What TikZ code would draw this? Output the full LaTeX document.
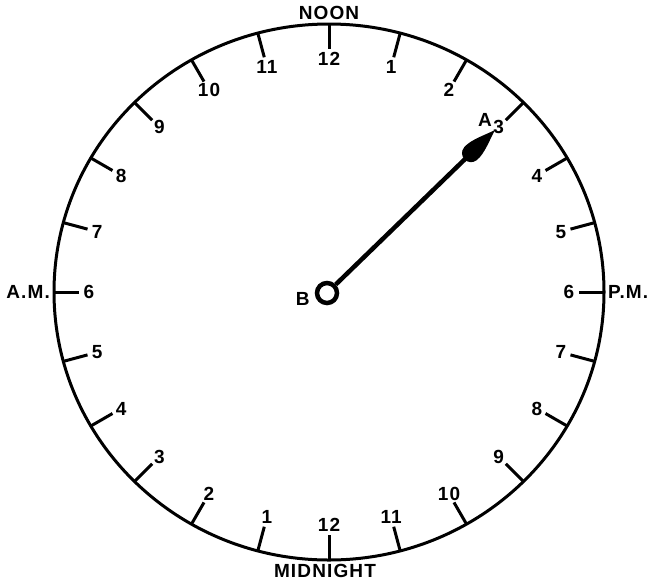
\documentclass[tikz,border=0pt]{standalone}
\usepackage{fontspec}
\setmainfont{Liberation Sans}[LetterSpace=6]
\usetikzlibrary{positioning,calc}
\tikzset{
ring/.style={line width=3pt},
tck/.style={line width=3pt},
num/.style={font=\fontsize{19}{19}\selectfont\bfseries, inner sep=0pt},
word/.style={font=\fontsize{19}{19}\selectfont\bfseries, inner sep=0pt},
hub/.style={circle, draw, line width=4.5pt, minimum size=20pt, inner sep=0pt},
hand/.style={line width=4.5pt},
}
\newcommand{\dialx}{329}
\newcommand{\dialy}{292}

\begin{document}
\begin{tikzpicture}[x=1pt,y=-1pt]
	\useasboundingbox (0,0) rectangle (653,582);

	% dial
	\draw[ring] (\dialx,\dialy) ellipse [x radius=275pt, y radius=268pt];
	\foreach \k in {0,...,23}{
		\draw[tck] ({\dialx+275*sin(15*\k)},{\dialy-268*cos(15*\k)}) -- ({\dialx+250*sin(15*\k)},{\dialy-243*cos(15*\k)});
		\pgfmathtruncatemacro\hr{mod(\k+11,12)+1}
		\node[num] (h\k) at ({\dialx+240*sin(15*\k)},{\dialy-233*cos(15*\k)}) {\hr};
	}

	\coordinate (n) at (\dialx,\dialy-268);
	\coordinate (m) at (\dialx,\dialy+268);
	\coordinate (w) at (\dialx-275,\dialy);
	\coordinate (e) at (\dialx+275,\dialy);
	\node[word,above=4pt of n] (noon) {NOON};
	\node[word,below=4pt of m,xshift=-4pt] (midnight) {MIDNIGHT};
	\node[word,left=4pt of w] (am) {A.M.};
	\node[word,right=4pt of e] (pm) {P.M.};

	% hand
	\node[hub] (b) at (327,293) {};
	\coordinate (a) at (495,130);
	\draw[hand] (b) -- ($(b)!0.85!(a)$);
	\begin{scope}[shift={(a)},rotate=44]
		\fill (0,0) .. controls (-10,-3) and (-24,-10) .. (-34,-9)
			.. controls (-45,-8) and (-45,8) .. (-34,9)
			.. controls (-24,10) and (-10,3) .. (0,0);
	\end{scope}
	\node[num,left=5pt of b,yshift=-6pt] (blbl) {B};
	\node[num,anchor=south east] (albl) at ($(a)+(-3,-3)$) {A};
\end{tikzpicture}
\end{document}
